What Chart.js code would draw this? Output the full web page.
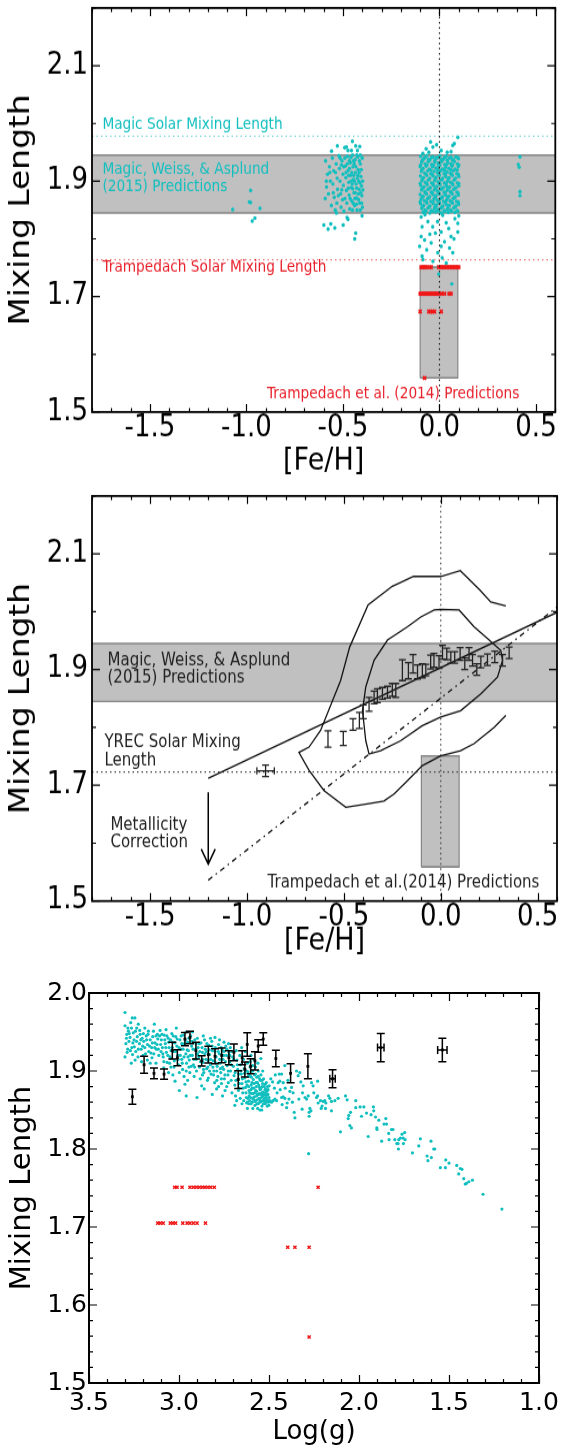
<!DOCTYPE html>
<html>
<head>
<meta charset="utf-8">
<script src="https://cdn.jsdelivr.net/npm/chart.js@4.4.1/dist/chart.umd.min.js"></script>
<style>
  html, body { margin: 0; padding: 0; background: #fff; }
  body { width: 561px; height: 1448px; position: relative; overflow: hidden; }
  canvas { position: absolute; left: 0; }
</style>
</head>
<body>
<canvas id="fehPanel" style="top:0px"></canvas>
<canvas id="fitPanel" style="top:480px"></canvas>
<canvas id="loggPanel" style="top:960px"></canvas>
<script>
// ---------------- tick labels ----------------
const fehTickLabels = [-1.5, -1.0, -0.5, 0.0, 0.5];
const alphaTickLabelsFeh = [1.5, 1.7, 1.9, 2.1];
const loggTickLabels = [1.0, 1.5, 2.0, 2.5, 3.0, 3.5];
const alphaTickLabelsLogg = [1.5, 1.6, 1.7, 1.8, 1.9, 2.0];

// ---------------- reference values ----------------
const magicSolarAlpha = 1.978;
const trampedachSolarAlpha = 1.764;
const yrecSolarAlpha = 1.723;
const magicRange = [1.845, 1.945];          // Magic, Weiss & Asplund (2015) prediction band
const trampedachFehRange = [-0.1, 0.095];   // Trampedach et al. (2014) grid coverage
const trampedachAlphaRange = [1.559, 1.751];

// ---------------- per-star mixing length vs [Fe/H] (Magic calibration) ----------------
const magicVsFeh = [
  // metal-poor handful
  [-0.978,1.884],[-0.985,1.864],[-0.978,1.863],[-1.071,1.851],[-0.93,1.853],[-0.956,1.836],[-0.97,1.831],
  // [Fe/H] ~ -0.5 group
  [-0.59,1.935],[-0.58,1.912],[-0.585,1.89],[-0.592,1.87],[-0.57,1.925],[-0.565,1.90],[-0.575,1.878],[-0.56,1.858],
  [-0.555,1.94],[-0.548,1.918],[-0.552,1.895],[-0.545,1.872],[-0.54,1.85],[-0.535,1.93],[-0.53,1.905],[-0.528,1.886],
  [-0.532,1.862],[-0.52,1.944],[-0.518,1.922],[-0.515,1.9],[-0.512,1.878],[-0.51,1.855],[-0.505,1.935],[-0.5,1.912],
  [-0.498,1.893],[-0.502,1.868],[-0.495,1.848],[-0.49,1.94],[-0.488,1.926],[-0.485,1.906],[-0.482,1.884],[-0.48,1.862],
  [-0.476,1.943],[-0.474,1.918],[-0.47,1.898],[-0.468,1.876],[-0.465,1.852],[-0.462,1.932],[-0.46,1.91],[-0.457,1.889],
  [-0.455,1.866],[-0.45,1.945],[-0.448,1.925],[-0.446,1.903],[-0.443,1.88],[-0.44,1.858],[-0.437,1.937],[-0.435,1.915],
  [-0.432,1.895],[-0.43,1.871],[-0.427,1.85],[-0.424,1.942],[-0.421,1.92],[-0.418,1.9],[-0.416,1.886],[-0.413,1.862],
  [-0.41,1.93],[-0.407,1.908],[-0.404,1.892],[-0.402,1.875],[-0.399,1.855],[-0.42,1.878],[-0.445,1.935],[-0.47,1.91],
  [-0.426,1.905],[-0.452,1.895],[-0.438,1.87],[-0.49,1.87],[-0.508,1.928],[-0.41,1.945],
  [-0.478,1.93],[-0.472,1.888],[-0.466,1.922],[-0.463,1.87],[-0.459,1.941],[-0.454,1.915],[-0.449,1.887],[-0.447,1.862],
  [-0.442,1.93],[-0.441,1.9],[-0.436,1.88],[-0.433,1.925],[-0.429,1.888],[-0.428,1.945],[-0.423,1.91],[-0.419,1.868],
  [-0.415,1.935],[-0.412,1.897],[-0.408,1.88],[-0.405,1.92],[-0.403,1.862],[-0.4,1.94],[-0.398,1.9],[-0.397,1.885],
  [-0.416,1.915],[-0.43,1.86],[-0.444,1.91],[-0.458,1.9],[-0.467,1.935],[-0.484,1.915],[-0.496,1.925],[-0.506,1.885],
  [-0.515,1.94],[-0.524,1.875],[-0.538,1.915],[-0.55,1.88],[-0.568,1.915],[-0.586,1.9],[-0.45,1.85],[-0.41,1.85],
  [-0.529,1.961],[-0.451,1.969],[-0.491,1.958],[-0.474,1.953],[-0.434,1.961],[-0.413,1.96],[-0.559,1.952],[-0.425,1.953],
  [-0.456,1.953],[-0.482,1.959],
  [-0.599,1.824],[-0.577,1.817],[-0.542,1.819],[-0.563,1.826],[-0.499,1.824],[-0.474,1.834],[-0.439,1.80],[-0.434,1.81],
  [-0.401,1.84],[-0.479,1.837],[-0.534,1.845],
  // solar-metallicity group
  [-0.098,1.943],[-0.081,1.939],[-0.066,1.944],[-0.049,1.937],[-0.033,1.942],[-0.016,1.94],[0.002,1.944],[0.019,1.938],
  [0.035,1.943],[0.052,1.94],[0.068,1.936],[0.085,1.942],[0.099,1.939],
  [-0.092,1.933],[-0.074,1.93],[-0.058,1.934],[-0.041,1.929],[-0.024,1.933],[-0.007,1.931],[0.011,1.934],[0.027,1.929],
  [0.044,1.932],[0.06,1.93],[0.077,1.934],[0.093,1.93],
  [-0.1,1.925],[-0.085,1.922],[-0.069,1.926],[-0.052,1.921],[-0.036,1.925],[-0.019,1.923],[-0.003,1.926],[0.015,1.921],
  [0.031,1.924],[0.048,1.922],[0.064,1.926],[0.081,1.921],[0.097,1.925],
  [-0.094,1.917],[-0.077,1.914],[-0.061,1.918],[-0.045,1.913],[-0.028,1.917],[-0.011,1.915],[0.006,1.918],[0.023,1.913],
  [0.039,1.916],[0.056,1.914],[0.072,1.918],[0.089,1.913],
  [-0.099,1.909],[-0.083,1.906],[-0.066,1.91],[-0.05,1.905],[-0.033,1.909],[-0.017,1.907],[0.0,1.91],[0.017,1.905],
  [0.033,1.908],[0.05,1.906],[0.067,1.91],[0.083,1.905],[0.1,1.908],
  [-0.091,1.901],[-0.074,1.898],[-0.058,1.902],[-0.041,1.897],[-0.025,1.901],[-0.008,1.899],[0.009,1.902],[0.025,1.897],
  [0.042,1.9],[0.058,1.898],[0.075,1.902],[0.092,1.897],
  [-0.097,1.893],[-0.08,1.89],[-0.064,1.894],[-0.047,1.889],[-0.031,1.893],[-0.014,1.891],[0.003,1.894],[0.02,1.889],
  [0.036,1.892],[0.053,1.89],[0.07,1.894],[0.086,1.889],[0.1,1.892],
  [-0.093,1.885],[-0.076,1.882],[-0.06,1.886],[-0.043,1.881],[-0.027,1.885],[-0.01,1.883],[0.007,1.886],[0.023,1.881],
  [0.04,1.884],[0.057,1.882],[0.073,1.886],[0.09,1.881],
  [-0.1,1.877],[-0.084,1.874],[-0.067,1.878],[-0.051,1.873],[-0.034,1.877],[-0.018,1.875],[-0.001,1.878],[0.016,1.873],
  [0.032,1.876],[0.049,1.874],[0.066,1.878],[0.082,1.873],[0.098,1.876],
  [-0.095,1.869],[-0.078,1.866],[-0.062,1.87],[-0.045,1.865],[-0.029,1.869],[-0.012,1.867],[0.005,1.87],[0.021,1.865],
  [0.038,1.868],[0.055,1.866],[0.071,1.87],[0.088,1.865],
  [-0.098,1.861],[-0.082,1.858],[-0.065,1.862],[-0.049,1.857],[-0.032,1.861],[-0.015,1.859],[0.001,1.862],[0.018,1.857],
  [0.035,1.86],[0.051,1.858],[0.068,1.862],[0.085,1.857],[0.099,1.86],
  [-0.092,1.853],[-0.075,1.85],[-0.059,1.854],[-0.042,1.849],[-0.026,1.853],[-0.009,1.851],[0.008,1.854],[0.024,1.849],
  [0.041,1.852],[0.058,1.85],[0.074,1.854],[0.091,1.849],
  [-0.085,1.846],[-0.05,1.845],[-0.02,1.847],[0.01,1.845],[0.045,1.846],[0.08,1.846],
  [-0.089,1.936],[-0.057,1.937],[-0.024,1.936],[0.008,1.937],[0.04,1.936],[0.072,1.937],
  [-0.09,1.92],[-0.044,1.919],[-0.01,1.92],[0.026,1.919],[0.059,1.92],[0.092,1.919],
  [-0.087,1.904],[-0.055,1.903],[-0.021,1.904],[0.013,1.903],[0.046,1.904],[0.079,1.903],
  [-0.088,1.888],[-0.054,1.887],[-0.02,1.888],[0.012,1.887],[0.045,1.888],[0.078,1.887],
  [-0.089,1.872],[-0.056,1.871],[-0.022,1.872],[0.011,1.871],[0.044,1.872],[0.077,1.871],
  [-0.088,1.856],[-0.055,1.855],[-0.021,1.856],[0.012,1.855],[0.046,1.856],[0.079,1.855],
  [-0.074,1.941],[-0.041,1.941],[-0.008,1.941],[0.027,1.941],[0.06,1.941],[0.092,1.941],
  [-0.098,1.928],[-0.065,1.928],[-0.032,1.928],[0.002,1.928],[0.035,1.928],[0.068,1.928],[0.1,1.928],
  [-0.07,1.912],[-0.038,1.912],[-0.003,1.912],[0.03,1.912],[0.062,1.912],[0.097,1.912],
  [-0.1,1.896],[-0.066,1.896],[-0.034,1.896],[0.0,1.896],[0.033,1.896],[0.066,1.896],[0.1,1.896],
  [-0.072,1.88],[-0.038,1.88],[-0.005,1.88],[0.028,1.88],[0.062,1.88],[0.096,1.88],
  [-0.1,1.864],[-0.067,1.864],[-0.035,1.864],[-0.002,1.864],[0.03,1.864],[0.063,1.864],[0.097,1.864],
  [-0.07,1.848],[-0.036,1.848],[-0.004,1.848],[0.028,1.848],[0.062,1.848],[0.095,1.848],
  [-0.046,1.968],[0.095,1.976],[0.077,1.965],[0.069,1.962],[-0.034,1.959],[-0.069,1.956],[0.009,1.953],[-0.086,1.948],
  [0.06,1.951],[-0.015,1.963],[0.04,1.95],[-0.055,1.95],
  [-0.095,1.838],[0.017,1.841],[-0.06,1.83],[0.095,1.827],[-0.035,1.821],[-0.09,1.821],[0.048,1.818],[0.009,1.812],
  [0.095,1.812],[-0.021,1.81],[-0.095,1.804],[0.06,1.804],[-0.077,1.798],[0.026,1.795],[-0.043,1.793],[-0.103,1.787],
  [0.009,1.787],[0.052,1.784],[-0.066,1.781],[-0.009,1.776],[0.069,1.776],[-0.09,1.77],[0.014,1.767],[-0.034,1.761],
  [0.035,1.758],[-0.086,1.764],[0.064,1.722],[-0.004,1.739],[0.08,1.835],[-0.075,1.842],[0.035,1.828],[-0.01,1.83],
  [0.075,1.8],[-0.05,1.808],[0.1,1.84],
  // super-solar few
  [0.417,1.942],[0.408,1.929],[0.413,1.924],[0.417,1.882],[0.417,1.875]
];

// ---------------- per-star mixing length vs [Fe/H] (Trampedach calibration) ----------------
const trampedachVsFeh = [
  [-0.095,1.751],[-0.088,1.751],[-0.08,1.751],[-0.072,1.751],[-0.065,1.751],[-0.05,1.751],[-0.043,1.751],
  [-0.004,1.751],[0.004,1.751],[0.012,1.751],[0.02,1.751],[0.028,1.751],[0.036,1.751],[0.044,1.751],[0.052,1.751],
  [0.06,1.751],[0.068,1.751],[0.076,1.751],[0.084,1.751],[0.092,1.751],[0.1,1.751],
  [-0.1,1.705],[-0.093,1.705],[-0.086,1.705],[-0.079,1.705],[-0.072,1.705],[-0.065,1.705],[-0.058,1.705],[-0.051,1.705],
  [-0.044,1.705],[-0.037,1.705],[-0.03,1.705],[-0.023,1.705],[-0.016,1.705],[-0.009,1.705],[0.0,1.705],[0.012,1.705],
  [0.026,1.705],[0.05,1.705],[0.06,1.705],
  [-0.1,1.674],[-0.055,1.674],[-0.045,1.674],[-0.035,1.674],[-0.026,1.674],[0.009,1.674],
  [-0.077,1.559]
];

// ---------------- binned calibration vs [Fe/H] ----------------
const binFeh      = [-0.904,-0.582,-0.503,-0.453,-0.42,-0.40,-0.37,-0.344,-0.327,-0.301,-0.275,-0.25,-0.232,-0.198,-0.167,-0.143,-0.12,-0.095,-0.077,-0.052,-0.035,-0.009,0.009,0.031,0.052,0.072,0.1,0.124,0.146,0.164,0.186,0.207,0.241,0.279,0.319,0.353];
const binAlphaFeh = [1.725,1.780,1.781,1.805,1.812,1.827,1.84,1.852,1.855,1.859,1.861,1.865,1.864,1.899,1.898,1.91,1.896,1.898,1.899,1.913,1.916,1.913,1.93,1.927,1.921,1.921,1.927,1.91,1.927,1.916,1.90,1.913,1.917,1.922,1.916,1.929];
const binAlphaErrFeh = [0.01,0.014,0.012,0.01,0.014,0.012,0.012,0.011,0.012,0.01,0.01,0.011,0.012,0.018,0.014,0.016,0.012,0.012,0.01,0.012,0.012,0.011,0.012,0.01,0.01,0.01,0.011,0.01,0.011,0.01,0.01,0.01,0.01,0.01,0.01,0.01];
const binFehErr   = [0.045,0,0,0,0,0,0,0,0,0,0,0,0,0,0,0,0,0,0,0,0,0,0,0,0,0,0,0,0,0,0,0,0,0,0,0];

// linear trend and metallicity-corrected trend
const trendLine     = [[-1.2,1.712],[0.6,1.999]];
const correctedLine = [[-1.2,1.536],[0.6,2.008]];
// density contours
const contourOuter = [[0.336,2.01],[0.258,2.017],[0.203,2.037],[0.101,2.071],[0.0,2.061],[-0.14,2.061],[-0.25,2.044],
  [-0.375,2.012],[-0.47,1.939],[-0.517,1.881],[-0.62,1.795],[-0.68,1.766],[-0.732,1.757],[-0.68,1.726],[-0.603,1.691],
  [-0.49,1.662],[-0.38,1.668],[-0.293,1.673],[-0.241,1.685],[-0.172,1.708],[-0.095,1.734],[0.0,1.751],[0.103,1.76],
  [0.172,1.772],[0.275,1.80],[0.336,1.821]];
const contourInner = [[0.0,2.004],[0.095,2.003],[0.172,1.974],[0.25,1.951],[0.31,1.933],[0.319,1.916],[0.293,1.887],
  [0.207,1.858],[0.103,1.829],[0.0,1.818],[-0.095,1.803],[-0.207,1.777],[-0.31,1.76],[-0.37,1.754],[-0.387,1.777],
  [-0.404,1.829],[-0.387,1.87],[-0.344,1.916],[-0.275,1.951],[-0.172,1.974],[-0.103,1.991],[-0.034,2.003],[0.0,2.004]];
const correctionArrowFeh = -1.2;
const correctionArrowAlpha = [1.688, 1.564];

// ---------------- per-star mixing length vs log g ----------------
const magicVsLogg = [
  [3.30,1.975],[3.26,1.968],[3.245,1.968],[3.268,1.962],[3.226,1.96],[3.137,1.96],[3.281,1.951],[3.29,1.947],[3.30,1.918],
  [3.285,1.928],[3.272,1.943],[3.254,1.949],[3.216,1.947],[3.17,1.951],[3.12,1.947],[3.295,1.935],[3.278,1.938],[3.262,1.93],
  [3.25,1.94],[3.24,1.925],[3.232,1.944],[3.22,1.935],[3.21,1.928],[3.205,1.942],[3.196,1.938],[3.19,1.93],[3.182,1.945],
  [3.175,1.934],[3.168,1.925],[3.16,1.94],[3.152,1.93],[3.146,1.944],[3.14,1.922],[3.133,1.936],[3.126,1.928],[3.118,1.941],
  [3.112,1.92],[3.288,1.924],[3.258,1.921],[3.228,1.918],[3.2,1.92],[3.176,1.914],[3.15,1.917],[3.3,1.958],[3.235,1.955],
  [3.19,1.955],[3.265,1.91],
  [3.292,1.942],[3.284,1.955],[3.276,1.948],[3.27,1.926],[3.264,1.955],[3.256,1.936],[3.248,1.931],[3.242,1.951],[3.236,1.938],
  [3.226,1.928],[3.218,1.952],[3.212,1.94],[3.202,1.932],[3.198,1.948],[3.186,1.922],[3.18,1.94],[3.172,1.947],[3.164,1.932],
  [3.156,1.923],[3.148,1.936],[3.142,1.951],[3.135,1.93],[3.128,1.945],[3.122,1.934],[3.115,1.928],[3.108,1.945],[3.244,1.914],
  [3.208,1.912],[3.16,1.91],[3.128,1.91],
  [3.105,1.952],[3.098,1.94],[3.092,1.93],[3.088,1.918],[3.082,1.946],[3.076,1.935],[3.07,1.924],[3.066,1.911],[3.06,1.942],
  [3.055,1.93],[3.05,1.918],[3.045,1.905],[3.04,1.948],[3.035,1.937],[3.03,1.925],[3.026,1.913],[3.022,1.887],[3.018,1.944],
  [3.012,1.932],[3.008,1.92],[3.003,1.908],[2.998,1.875],[2.995,1.94],[2.99,1.928],[2.985,1.915],[2.98,1.902],[2.975,1.946],
  [2.97,1.935],[2.967,1.883],[2.962,1.922],[2.958,1.91],[2.952,1.937],[2.948,1.926],[2.943,1.914],[2.94,1.898],[2.935,1.945],
  [2.93,1.932],[2.926,1.92],[2.92,1.908],[2.916,1.893],[2.912,1.94],[2.908,1.928],[2.904,1.915],[3.1,1.925],[3.085,1.904],
  [3.058,1.898],[3.034,1.895],[2.998,1.898],[2.972,1.893],[2.952,1.888],[3.015,1.955],[2.96,1.95],[2.925,1.95],[3.072,1.953],
  [3.044,1.926],[2.985,1.935],[2.945,1.905],[2.903,1.9],[2.96,1.868],
  [3.102,1.934],[3.095,1.947],[3.09,1.922],[3.084,1.912],[3.079,1.94],[3.073,1.93],[3.067,1.945],[3.062,1.92],[3.057,1.937],
  [3.052,1.91],[3.047,1.94],[3.042,1.916],[3.037,1.93],[3.032,1.945],[3.028,1.905],[3.023,1.936],[3.017,1.925],[3.01,1.941],
  [3.005,1.915],[3.0,1.93],[2.993,1.92],[2.988,1.945],[2.982,1.91],[2.977,1.928],[2.972,1.918],[2.966,1.94],[2.96,1.9],
  [2.955,1.927],[2.95,1.918],[2.945,1.942],[2.938,1.92],[2.932,1.906],[2.928,1.938],[2.922,1.928],[2.917,1.915],[2.913,1.905],
  [2.906,1.935],[2.902,1.922],
  [2.898,1.942],[2.894,1.93],[2.89,1.918],[2.886,1.905],[2.882,1.89],[2.878,1.936],[2.874,1.881],[2.87,1.924],[2.866,1.911],
  [2.862,1.898],[2.858,1.94],[2.854,1.928],[2.85,1.915],[2.846,1.903],[2.842,1.888],[2.837,1.891],[2.834,1.933],[2.83,1.921],
  [2.826,1.908],[2.822,1.896],[2.818,1.938],[2.814,1.926],[2.81,1.913],[2.806,1.9],[2.802,1.885],[2.798,1.93],[2.794,1.918],
  [2.791,1.877],[2.788,1.906],[2.784,1.893],[2.78,1.934],[2.776,1.922],[2.772,1.91],[2.768,1.898],[2.764,1.884],[2.76,1.927],
  [2.756,1.915],[2.752,1.902],[2.748,1.89],[2.744,1.875],[2.74,1.932],[2.736,1.92],[2.732,1.907],[2.728,1.895],[2.726,1.885],
  [2.722,1.924],[2.718,1.912],[2.714,1.9],[2.71,1.888],[2.706,1.872],[2.702,1.918],[2.9,1.866],[2.885,1.925],[2.865,1.945],
  [2.845,1.935],[2.825,1.942],[2.8,1.943],[2.775,1.94],[2.75,1.937],[2.725,1.935],[2.86,1.877],[2.815,1.87],[2.78,1.88],
  [2.758,1.868],[2.735,1.88],[2.868,1.915],[2.812,1.905],[2.795,1.91],[2.752,1.92],[2.715,1.93],[2.838,1.913],[2.77,1.903],
  [2.896,1.922],[2.888,1.935],[2.88,1.912],[2.872,1.93],[2.864,1.902],[2.856,1.922],[2.848,1.925],[2.84,1.905],[2.832,1.927],
  [2.824,1.915],[2.816,1.932],[2.808,1.895],[2.8,1.925],[2.79,1.9],[2.782,1.925],[2.774,1.915],[2.766,1.93],[2.758,1.905],
  [2.75,1.925],[2.742,1.912],[2.734,1.928],[2.726,1.9],[2.718,1.92],[2.71,1.908],[2.705,1.925],[2.745,1.895],[2.79,1.888],
  [2.83,1.9],[2.87,1.895],[2.765,1.89],
  [2.698,1.906],[2.694,1.894],[2.69,1.882],[2.686,1.868],[2.682,1.926],[2.68,1.862],[2.678,1.914],[2.674,1.902],[2.67,1.89],
  [2.666,1.878],[2.662,1.92],[2.658,1.908],[2.654,1.896],[2.65,1.884],[2.646,1.872],[2.642,1.915],[2.638,1.903],[2.634,1.891],
  [2.63,1.879],[2.626,1.866],[2.624,1.859],[2.62,1.91],[2.617,1.899],[2.614,1.887],[2.611,1.875],[2.608,1.862],[2.605,1.905],
  [2.602,1.893],[2.599,1.882],[2.596,1.871],[2.593,1.86],[2.59,1.9],[2.587,1.889],[2.584,1.878],[2.581,1.867],[2.578,1.856],
  [2.575,1.896],[2.572,1.885],[2.569,1.874],[2.566,1.863],[2.563,1.852],[2.56,1.893],[2.557,1.882],[2.554,1.871],[2.551,1.86],
  [2.548,1.888],[2.545,1.877],[2.542,1.866],[2.539,1.855],[2.536,1.884],[2.533,1.873],[2.53,1.862],[2.527,1.88],[2.524,1.869],
  [2.521,1.858],[2.518,1.877],[2.515,1.866],[2.512,1.874],[2.509,1.863],[2.506,1.87],[2.503,1.86],[2.5,1.866],
  [2.615,1.893],[2.6,1.876],[2.585,1.866],[2.57,1.88],[2.555,1.865],[2.54,1.872],[2.525,1.865],[2.61,1.868],[2.595,1.885],
  [2.58,1.872],[2.565,1.87],[2.55,1.876],[2.535,1.868],[2.52,1.872],[2.628,1.886],[2.612,1.858],[2.59,1.864],[2.576,1.861],
  [2.56,1.858],[2.545,1.861],[2.532,1.858],[2.6,1.858],[2.64,1.862],[2.66,1.865],[2.67,1.875],[2.605,1.912],[2.59,1.907],
  [2.575,1.905],[2.56,1.9],[2.545,1.895],[2.53,1.89],[2.515,1.885],[2.585,1.915],[2.562,1.91],[2.535,1.9],[2.51,1.855],
  [2.62,1.852],[2.69,1.856],[2.55,1.85],[2.652,1.93],[2.632,1.925],[2.6,1.92],
  [2.696,1.915],[2.688,1.898],[2.684,1.888],[2.676,1.908],[2.668,1.896],[2.664,1.884],[2.656,1.9],[2.648,1.89],[2.644,1.878],
  [2.636,1.897],[2.628,1.872],[2.622,1.882],[2.618,1.865],[2.613,1.88],[2.607,1.872],[2.603,1.866],[2.598,1.892],[2.594,1.878],
  [2.589,1.871],[2.583,1.884],[2.579,1.862],[2.574,1.875],[2.568,1.868],[2.564,1.885],[2.558,1.87],[2.553,1.879],[2.549,1.862],
  [2.543,1.87],[2.538,1.88],[2.534,1.862],[2.528,1.87],[2.522,1.876],[2.517,1.86],[2.511,1.869],[2.505,1.876],[2.501,1.856],
  [2.625,1.9],[2.61,1.895],[2.595,1.9],[2.58,1.895],[2.568,1.892],[2.552,1.89],[2.538,1.888],[2.522,1.883],[2.508,1.88],
  [2.65,1.858],[2.62,1.86],[2.59,1.852],[2.567,1.858],[2.54,1.85],
  [2.47,1.878],[2.455,1.872],[2.49,1.89],[2.465,1.895],[2.438,1.876],[2.41,1.878],[2.395,1.888],[2.37,1.86],
  [1.206,1.723],[1.311,1.742],[1.37,1.76],[1.39,1.758],[1.403,1.756],[1.41,1.755],[1.418,1.762],[1.428,1.774],[1.437,1.775],
  [1.446,1.768],[1.457,1.779],[1.50,1.782],[1.518,1.786],[1.52,1.776],[1.548,1.776],[1.579,1.80],[1.585,1.80],[1.598,1.789],
  [1.60,1.81],[1.622,1.791],[1.617,1.785],[1.659,1.813],[1.668,1.804],[1.703,1.795],[1.744,1.812],[1.746,1.821],[1.761,1.819],
  [1.755,1.814],[1.77,1.814],[1.779,1.812],[1.783,1.807],[1.79,1.807],[1.781,1.80],[1.753,1.807],[1.801,1.812],[1.811,1.825],
  [1.82,1.825],[1.835,1.82],[1.833,1.812],[1.847,1.832],[1.851,1.839],[1.861,1.832],[1.874,1.81],[1.89,1.837],[1.90,1.825],
  [1.901,1.827],[1.908,1.841],[1.918,1.849],[1.92,1.854],[1.933,1.844],[1.949,1.816],[1.958,1.846],[1.973,1.854],[1.986,1.842],
  [1.994,1.854],[2.018,1.862],[2.018,1.853],[2.042,1.827],[2.051,1.83],[2.047,1.847],[2.057,1.843],[2.06,1.839],[2.066,1.863],
  [2.075,1.868],[2.103,1.822],[2.116,1.865],[2.134,1.862],[2.153,1.861],[2.153,1.849],[2.162,1.865],[2.169,1.868],[2.184,1.859],
  [2.186,1.852],[2.19,1.862],[2.199,1.861],[2.205,1.855],[2.21,1.852],[2.214,1.862],[2.227,1.859],[2.23,1.868],[2.236,1.866],
  [2.23,1.887],[2.251,1.872],[2.255,1.881],[2.264,1.885],[2.267,1.849],[2.277,1.847],[2.277,1.842],[2.273,1.852],[2.28,1.794],
  [2.282,1.868],[2.291,1.864],[2.30,1.866],[2.31,1.881],[2.314,1.872],[2.316,1.851],[2.323,1.886],[2.329,1.898],[2.334,1.864],
  [2.338,1.894],[2.347,1.90],[2.356,1.84],[2.36,1.847],[2.366,1.872],[2.375,1.879],[2.384,1.874],[2.389,1.864],[2.399,1.859],
  [2.402,1.853],[2.412,1.865],[2.421,1.867],[2.427,1.857],[2.43,1.866],[2.421,1.885],[2.43,1.896],[2.443,1.896],[2.449,1.885],
  [2.458,1.862],[2.467,1.864],[2.477,1.862],[2.486,1.86],[2.495,1.862],[2.504,1.861],[2.523,1.862],[2.412,1.907],[2.44,1.887],
  [2.48,1.886],[2.499,1.881],[2.545,1.916]
];
const trampedachVsLogg = [
  [3.024,1.751],[3.011,1.751],[2.983,1.751],[2.939,1.751],[2.92,1.751],[2.903,1.751],[2.887,1.751],[2.87,1.751],[2.856,1.751],
  [2.84,1.751],[2.824,1.751],[2.804,1.751],[2.227,1.751],
  [3.118,1.705],[3.104,1.705],[3.088,1.705],[3.048,1.705],[3.034,1.705],[3.019,1.705],[2.979,1.705],[2.955,1.705],[2.939,1.705],
  [2.92,1.705],[2.90,1.705],[2.853,1.705],
  [2.396,1.674],[2.356,1.674],[2.277,1.674],
  [2.277,1.559]
];

// ---------------- binned calibration vs log g ----------------
const binLogg      = [3.259,3.194,3.139,3.083,3.037,3.009,2.967,2.939,2.906,2.874,2.837,2.80,2.763,2.723,2.695,2.671,2.649,2.634,2.621,2.602,2.578,2.56,2.532,2.462,2.38,2.284,2.147,1.879,1.537];
const binAlphaLogg = [1.867,1.908,1.897,1.896,1.926,1.917,1.941,1.943,1.926,1.913,1.921,1.919,1.92,1.917,1.924,1.889,1.917,1.902,1.934,1.906,1.913,1.932,1.941,1.916,1.897,1.906,1.890,1.930,1.927];
const binAlphaErrLogg = [0.0096,0.011,0.007,0.0065,0.0107,0.0103,0.0085,0.008,0.0107,0.0065,0.0107,0.0096,0.0094,0.009,0.0107,0.0113,0.009,0.0096,0.015,0.0096,0.0117,0.008,0.008,0.0107,0.0122,0.016,0.0115,0.018,0.015];
const binLoggErr   = [0,0,0,0,0,0,0,0,0,0,0,0,0,0,0,0,0,0,0,0,0,0,0,0,0,0,0.015,0.018,0.026];

// ---------------- drawing helpers ----------------
const FONT = 'DejaVu Sans';
const CYAN = '#12bfbf';
const RED = '#f01818';
const BAND_FILL = '#c0c0c0';
const BAND_EDGE = '#858585';

const xy = pairs => pairs.map(([x, y]) => ({x, y}));
const zip = (xs, ys) => xs.map((x, i) => ({x, y: ys[i]}));
const isListed = (v, list) => list.some(m => Math.abs(m - v) < 1e-6);
const fmt = v => (Math.abs(v) < 1e-9 ? 0 : v).toFixed(1);

// frame with inward ticks on all four sides
const axisFrame = {
  id: 'axisFrame',
  afterDatasetsDraw(chart, args, opts) {
    const {ctx, chartArea: a} = chart;
    ctx.save();
    ctx.strokeStyle = '#000';
    ctx.lineWidth = opts.tickWidth;
    ctx.beginPath();
    const xs = chart.scales.x, ys = chart.scales.y;
    xs.ticks.forEach(t => {
      const len = (t.label !== '' ? opts.major : opts.minor) / opts.sy;
      const p = Math.round(xs.getPixelForValue(t.value)) + 0.5;
      ctx.moveTo(p, a.bottom); ctx.lineTo(p, a.bottom - len);
      ctx.moveTo(p, a.top); ctx.lineTo(p, a.top + len);
    });
    ys.ticks.forEach(t => {
      const len = t.label !== '' ? opts.major : opts.minor;
      const p = ys.getPixelForValue(t.value);
      ctx.moveTo(a.left, p); ctx.lineTo(a.left + len, p);
      ctx.moveTo(a.right, p); ctx.lineTo(a.right - len, p);
    });
    ctx.stroke();
    ctx.lineWidth = opts.frameWidth;
    ctx.strokeRect(a.left, a.top, a.right - a.left, a.bottom - a.top);
    ctx.restore();
  }
};

// error bars for datasets carrying yErr / xErr arrays
const errorBars = {
  id: 'errorBars',
  afterDatasetsDraw(chart) {
    const {ctx} = chart;
    const xs = chart.scales.x, ys = chart.scales.y;
    chart.data.datasets.forEach((ds, i) => {
      if (!ds.yErr) return;
      const meta = chart.getDatasetMeta(i);
      ctx.save();
      ctx.strokeStyle = ds.errColor || '#000';
      ctx.lineWidth = ds.errWidth || 1.3;
      ctx.beginPath();
      meta.data.forEach((pt, j) => {
        const v = ds.data[j];
        const cap = ds.capSize || 4;
        const ey = ds.yErr[j] || 0;
        if (ey) {
          const y0 = ys.getPixelForValue(v.y - ey), y1 = ys.getPixelForValue(v.y + ey);
          ctx.moveTo(pt.x, y0); ctx.lineTo(pt.x, y1);
          ctx.moveTo(pt.x - cap, y0); ctx.lineTo(pt.x + cap, y0);
          ctx.moveTo(pt.x - cap, y1); ctx.lineTo(pt.x + cap, y1);
        }
        const ex = ds.xErr ? ds.xErr[j] : 0;
        if (ex) {
          const x0 = xs.getPixelForValue(v.x - ex), x1 = xs.getPixelForValue(v.x + ex);
          const capY = cap / (ds.stretch || 1);
          ctx.moveTo(x0, pt.y); ctx.lineTo(x1, pt.y);
          ctx.moveTo(x0, pt.y - capY); ctx.lineTo(x0, pt.y + capY);
          ctx.moveTo(x1, pt.y - capY); ctx.lineTo(x1, pt.y + capY);
        }
      });
      ctx.stroke();
      ctx.restore();
    });
  }
};

// text notes and arrows placed in data coordinates
const notes = {
  id: 'notes',
  afterDatasetsDraw(chart, args, opts) {
    const {ctx} = chart;
    const xs = chart.scales.x, ys = chart.scales.y;
    (opts.items || []).forEach(it => {
      ctx.save();
      if (it.arrow) {
        const px = xs.getPixelForValue(it.x);
        const p0 = ys.getPixelForValue(it.y[0]), p1 = ys.getPixelForValue(it.y[1]);
        ctx.strokeStyle = it.color; ctx.lineWidth = 1.5;
        ctx.beginPath();
        ctx.moveTo(px, p0); ctx.lineTo(px, p1);
        ctx.moveTo(px - 7, p1 - 13); ctx.lineTo(px, p1); ctx.lineTo(px + 7, p1 - 13);
        ctx.stroke();
      } else {
        ctx.fillStyle = it.color;
        ctx.font = `${it.size}px "${FONT}"`;
        ctx.textAlign = 'left';
        ctx.textBaseline = 'middle';
        ctx.fillText(it.text, xs.getPixelForValue(it.x), ys.getPixelForValue(it.y));
      }
      ctx.restore();
    });
  }
};

function hLine(y, x0, x1, color, dash, order) {
  return {type: 'line', data: [{x: x0, y}, {x: x1, y}], borderColor: color, borderWidth: 1.2,
          borderDash: dash, pointRadius: 0, fill: false, order};
}
function vLine(x, y0, y1, color, dash, order) {
  return {type: 'line', data: [{x, y: y0}, {x, y: y1}], borderColor: color, borderWidth: 1.2,
          borderDash: dash, pointRadius: 0, fill: false, order};
}
function bandPair(x0, x1, lo, hi, order) {
  return [
    {type: 'line', data: [{x: x0, y: lo}, {x: x1, y: lo}], borderColor: BAND_EDGE, borderWidth: 1.4,
     pointRadius: 0, fill: false, order},
    {type: 'line', data: [{x: x0, y: hi}, {x: x1, y: hi}], borderColor: BAND_EDGE, borderWidth: 1.4,
     pointRadius: 0, fill: '-1', backgroundColor: BAND_FILL, order}
  ];
}
function boxEdges(x0, x1, lo, hi, order) {
  return {type: 'line', data: [{x: x0, y: lo}, {x: x0, y: hi}, {x: x1, y: hi}, {x: x1, y: lo}, {x: x0, y: lo}],
          borderColor: BAND_EDGE, borderWidth: 1.2, pointRadius: 0, fill: false, order};
}
function pathLine(pairs, dash, order) {
  return {type: 'line', data: xy(pairs), borderColor: '#111', borderWidth: 1.3, borderDash: dash,
          pointRadius: 0, fill: false, tension: 0, order};
}

// g holds page-pixel geometry; the bitmap may be drawn shorter and stretched vertically by CSS
function makePanel(id, g, xAxis, yAxis, datasets, noteItems) {
  const canvas = document.getElementById(id);
  const W = 561;
  const H = Math.round(g.height / (g.stretch || 1));
  const s = g.height / H;
  canvas.width = W; canvas.height = H;
  canvas.style.width = W + 'px'; canvas.style.height = g.height + 'px';
  const top = g.top / s, bottom = g.bottom / s;
  const tickFont = {family: FONT, size: g.tickSize, lineHeight: 1};
  const xPad = g.xLabelY / s - bottom - g.tickSize / 2;
  const xTitleLH = g.xTitleSize * 1.2;
  const xTitlePad = Math.max(0, (g.height - g.xTitleY) / s - xTitleLH / 2);
  const yTitleLH = g.yTitleSize * 1.2;
  const yTitlePad = g.yTitleX - yTitleLH / 2;
  datasets.forEach(d => { if (d.yErr) d.stretch = s; });
  return new Chart(canvas, {
    type: 'scatter',
    data: {datasets},
    options: {
      responsive: false,
      animation: false,
      events: [],
      layout: {padding: {left: 0, top, right: W - g.right, bottom: 0}},
      plugins: {
        legend: {display: false},
        tooltip: {enabled: false},
        axisFrame: {major: 8, minor: 4, tickWidth: 1.2, frameWidth: g.frame, sy: s},
        notes: {items: noteItems}
      },
      scales: {
        x: {
          type: 'linear', min: xAxis.min, max: xAxis.max, reverse: !!xAxis.reverse,
          grid: {display: false, drawTicks: false}, border: {display: false},
          ticks: {stepSize: 0.1, maxTicksLimit: 1000, autoSkip: false, maxRotation: 0, padding: xPad,
                  color: '#000', font: tickFont,
                  callback: v => isListed(v, xAxis.labels) ? fmt(v) : ''},
          title: {display: true, text: xAxis.title, color: '#000', font: {family: FONT, size: g.xTitleSize},
                  padding: {top: 0, bottom: xTitlePad}},
          afterFit: sc => { sc.height = H - bottom; sc.paddingLeft = 0; sc.paddingRight = 0; }
        },
        y: {
          type: 'linear', min: yAxis.min, max: yAxis.max,
          grid: {display: false, drawTicks: false}, border: {display: false},
          ticks: {stepSize: yAxis.step, maxTicksLimit: 1000, autoSkip: false, padding: g.yPad,
                  color: '#000', font: tickFont,
                  callback: v => isListed(v, yAxis.labels) ? fmt(v) : ''},
          title: {display: true, text: 'Mixing Length', color: '#000', font: {family: FONT, size: g.yTitleSize},
                  padding: {top: yTitlePad, bottom: 0}},
          afterFit: sc => { sc.width = g.left; sc.paddingTop = 0; sc.paddingBottom = 0; }
        }
      }
    },
    plugins: [axisFrame, errorBars, notes]
  });
}

// ---------------- panel 1: mixing length vs [Fe/H], per star ----------------
makePanel('fehPanel',
  {height: 480, stretch: 1.15, top: 8, bottom: 412, left: 92, right: 557, tickSize: 26, xLabelY: 429, yPad: 4,
   xTitleSize: 27, xTitleY: 461, yTitleSize: 28.5, yTitleX: 22, frame: 1.8},
  {min: -1.8, max: 0.6, labels: fehTickLabels, title: '[Fe/H]'},
  {min: 1.5, max: 2.2, step: 0.1, labels: alphaTickLabelsFeh},
  [
    ...bandPair(-1.8, 0.6, magicRange[0], magicRange[1], 20),
    ...bandPair(trampedachFehRange[0], trampedachFehRange[1], trampedachAlphaRange[0], trampedachAlphaRange[1], 19),
    boxEdges(trampedachFehRange[0], trampedachFehRange[1], trampedachAlphaRange[0], trampedachAlphaRange[1], 18),
    {data: xy(magicVsFeh), pointStyle: 'circle', pointRadius: 1.7, backgroundColor: CYAN, borderWidth: 0, order: 5},
    {data: xy(trampedachVsFeh), pointStyle: 'crossRot', pointRadius: 2.2, borderColor: RED, borderWidth: 1.7, order: 4},
    hLine(magicSolarAlpha, -1.8, 0.6, '#60d0d0', [1.5, 3], 1),
    hLine(trampedachSolarAlpha, -1.8, 0.6, '#f08080', [1.5, 3], 1),
    vLine(0, 1.5, 2.2, '#222', [1.5, 3], 0)
  ],
  [
    {text: 'Magic Solar Mixing Length', x: -1.746, y: 1.998, color: CYAN, size: 13.7},
    {text: 'Magic, Weiss, & Asplund', x: -1.746, y: 1.919, color: CYAN, size: 13.7},
    {text: '(2015) Predictions', x: -1.746, y: 1.890, color: CYAN, size: 13.7},
    {text: 'Trampedach Solar Mixing Length', x: -1.746, y: 1.750, color: '#e8202a', size: 13.7},
    {text: 'Trampedach et al. (2014) Predictions', x: -0.894, y: 1.531, color: '#e8202a', size: 13.7}
  ]
);

// ---------------- panel 2: binned calibration vs [Fe/H] ----------------
makePanel('fitPanel',
  {height: 480, stretch: 1.15, top: 16, bottom: 421, left: 92, right: 557, tickSize: 26, xLabelY: 437.5, yPad: 4,
   xTitleSize: 27, xTitleY: 462, yTitleSize: 28.5, yTitleX: 22, frame: 1.8},
  {min: -1.8, max: 0.6, labels: fehTickLabels, title: '[Fe/H]'},
  {min: 1.5, max: 2.2, step: 0.1, labels: alphaTickLabelsFeh},
  [
    ...bandPair(-1.8, 0.6, magicRange[0], magicRange[1], 20),
    ...bandPair(trampedachFehRange[0], trampedachFehRange[1], trampedachAlphaRange[0], trampedachAlphaRange[1], 19),
    boxEdges(trampedachFehRange[0], trampedachFehRange[1], trampedachAlphaRange[0], trampedachAlphaRange[1], 18),
    hLine(yrecSolarAlpha, -1.8, 0.6, '#444', [1.5, 3], 12),
    vLine(0, 1.5, 2.2, '#444', [1.5, 3], 12),
    pathLine(contourOuter, [], 6),
    pathLine(contourInner, [], 6),
    pathLine(trendLine, [], 6),
    pathLine(correctedLine, [5, 4, 1.5, 4], 6),
    {data: zip(binFeh, binAlphaFeh), yErr: binAlphaErrFeh, xErr: binFehErr, capSize: 3.5, errColor: '#222',
     pointRadius: 0, order: 1}
  ],
  [
    {text: 'Magic, Weiss, & Asplund', x: -1.72, y: 1.916, color: '#222', size: 15},
    {text: '(2015) Predictions', x: -1.72, y: 1.885, color: '#222', size: 15},
    {text: 'YREC Solar Mixing', x: -1.736, y: 1.773, color: '#222', size: 15},
    {text: 'Length', x: -1.736, y: 1.742, color: '#222', size: 15},
    {text: 'Metallicity', x: -1.705, y: 1.630, color: '#222', size: 15},
    {text: 'Correction', x: -1.705, y: 1.600, color: '#222', size: 15},
    {text: 'Trampedach et al.(2014) Predictions', x: -0.894, y: 1.531, color: '#222', size: 15},
    {arrow: true, x: correctionArrowFeh, y: correctionArrowAlpha, color: '#000'}
  ]
);

// ---------------- panel 3: mixing length vs log g ----------------
makePanel('loggPanel',
  {height: 488, stretch: 1, top: 33, bottom: 423, left: 89, right: 539, tickSize: 25, xLabelY: 443.5, yPad: 2,
   xTitleSize: 26, xTitleY: 472, yTitleSize: 29, yTitleX: 22, frame: 2},
  {min: 1.0, max: 3.5, reverse: true, labels: loggTickLabels, title: 'Log(g)'},
  {min: 1.5, max: 2.0, step: 0.02, labels: alphaTickLabelsLogg},
  [
    {data: xy(magicVsLogg), pointStyle: 'circle', pointRadius: 1.6, backgroundColor: CYAN, borderWidth: 0, order: 5},
    {data: xy(trampedachVsLogg), pointStyle: 'crossRot', pointRadius: 2.2, borderColor: RED, borderWidth: 1.5, order: 4},
    {data: zip(binLogg, binAlphaLogg), yErr: binAlphaErrLogg, xErr: binLoggErr, capSize: 4, errWidth: 1.5,
     pointStyle: 'rect', pointRadius: 2, backgroundColor: '#111', borderWidth: 0, order: 1}
  ],
  []
);
</script>
</body>
</html>
